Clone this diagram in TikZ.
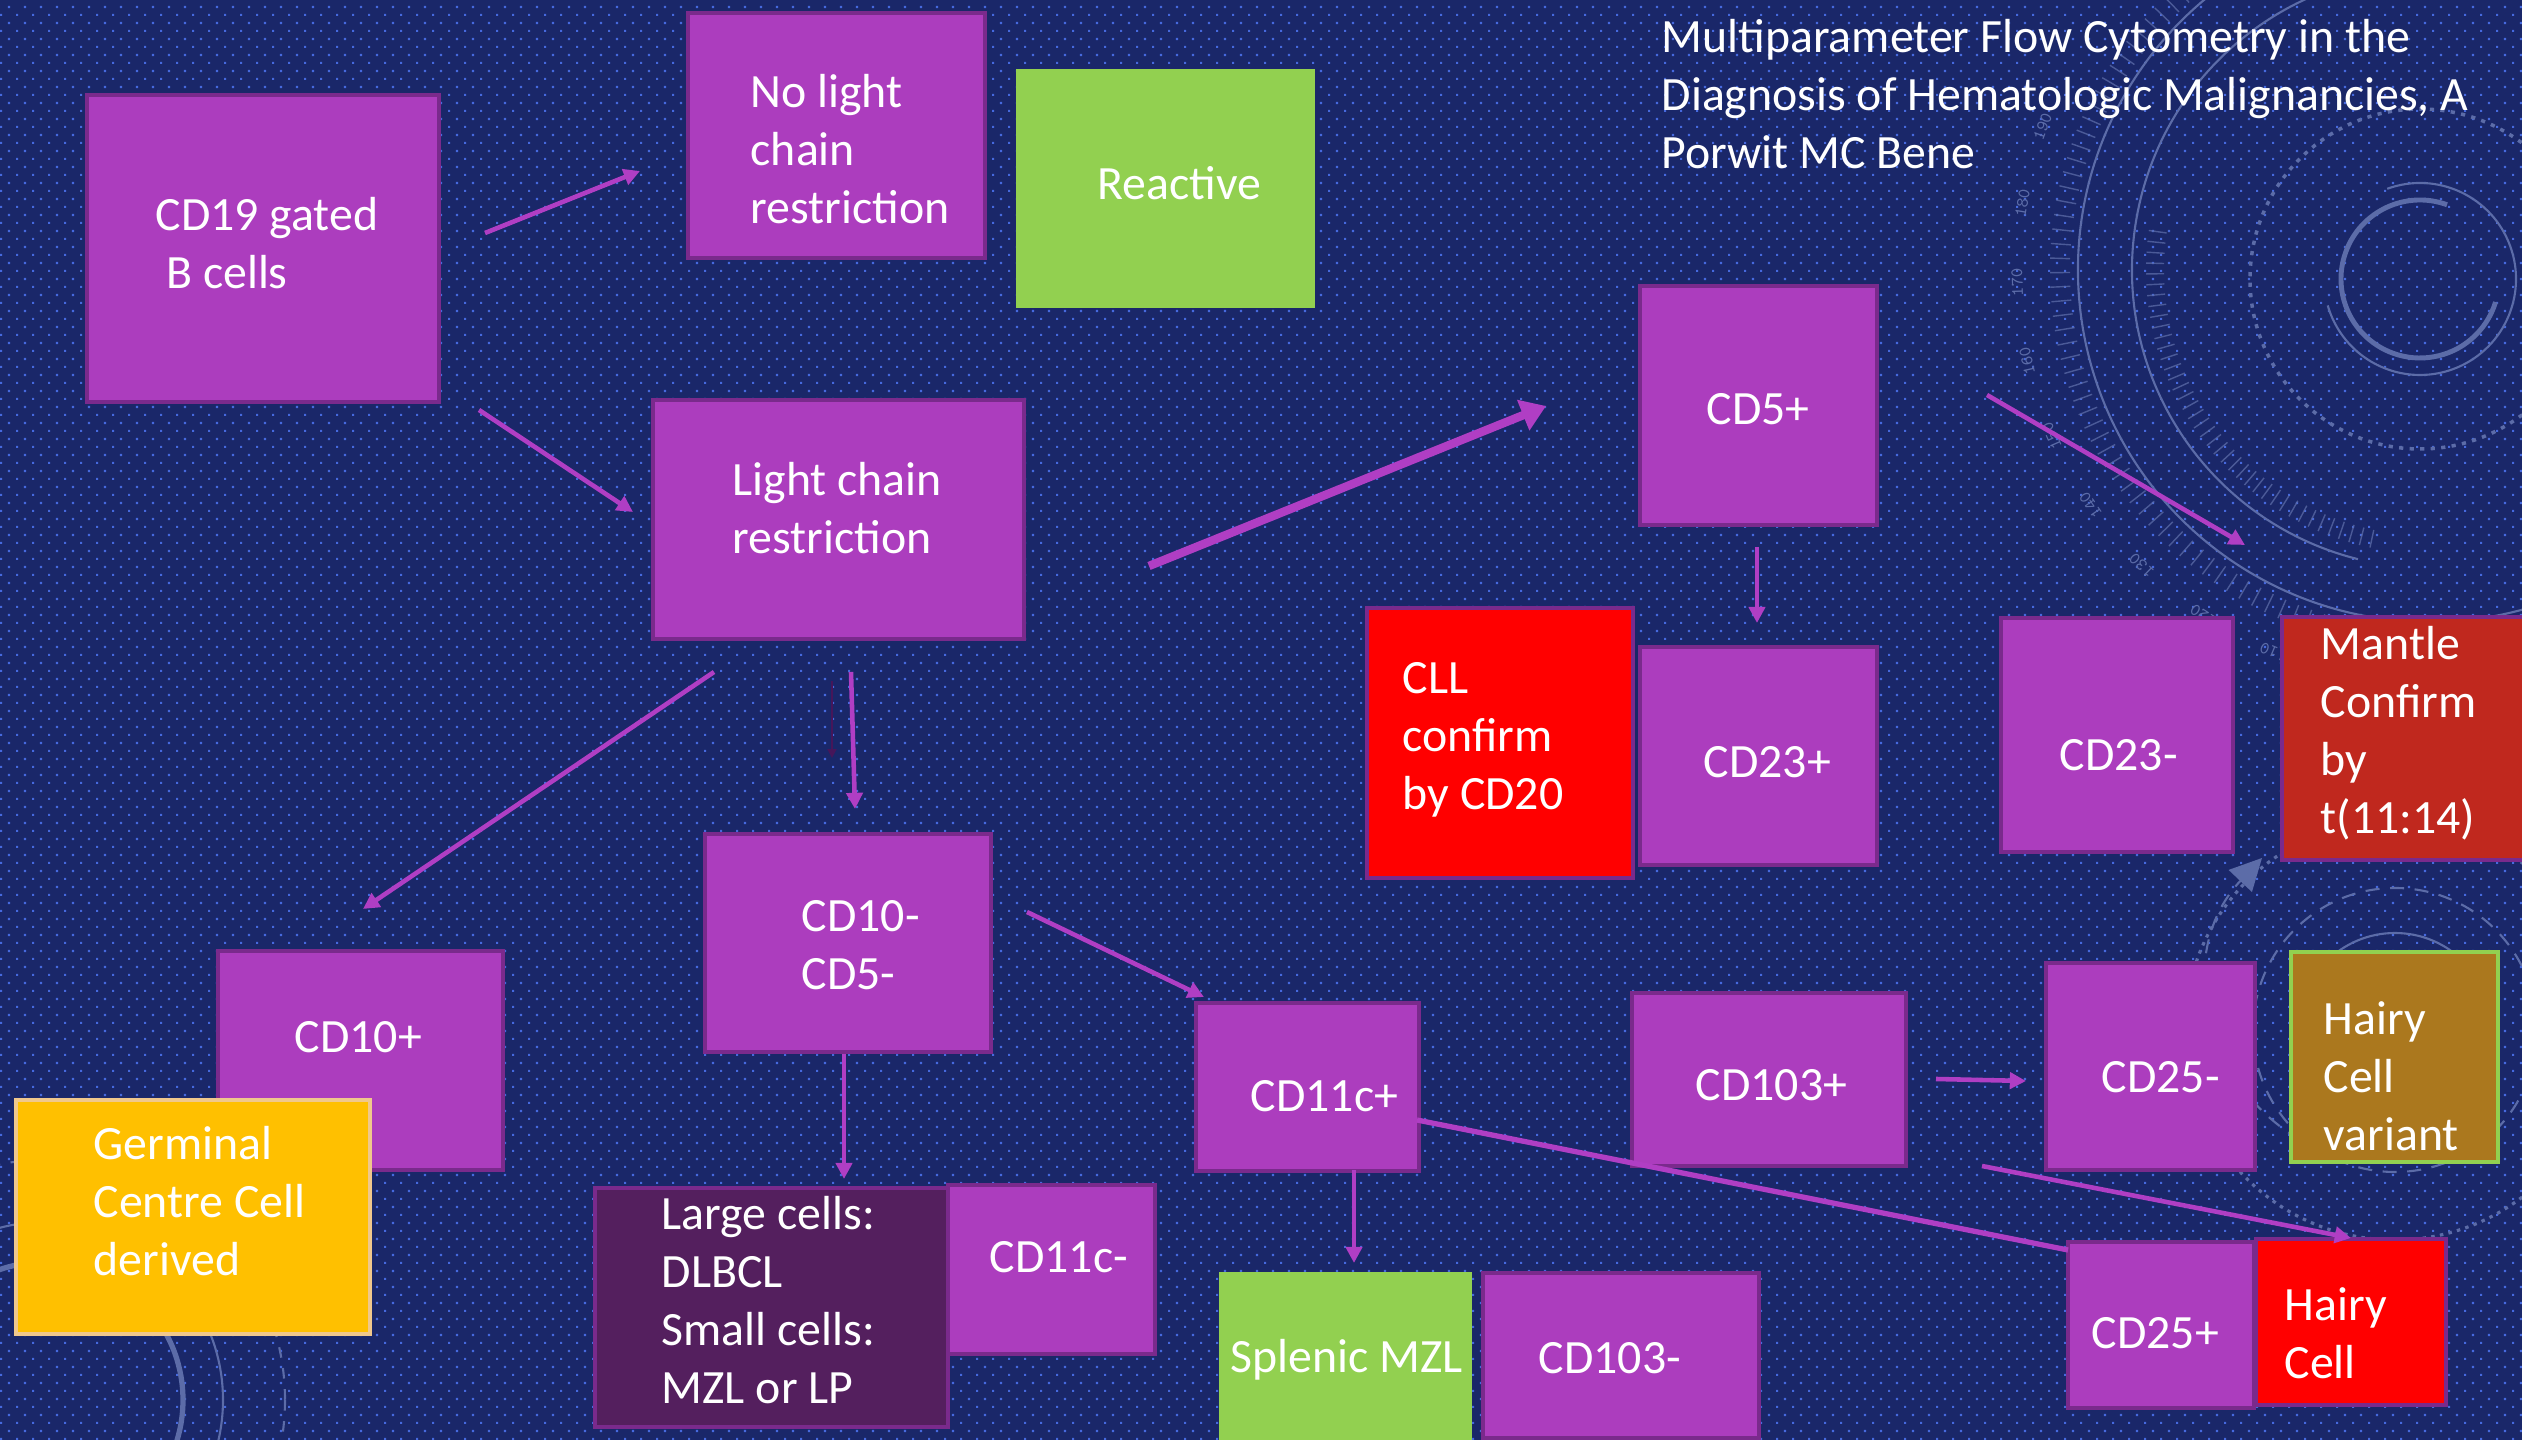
\documentclass[tikz,border=0pt]{standalone}
\usepackage{fontspec}
\setmainfont{Carlito}
\usetikzlibrary{arrows.meta,patterns}

\definecolor{bgc}{RGB}{26,39,105}
\definecolor{dotc}{RGB}{70,105,222}
\definecolor{decoc}{RGB}{92,108,168}
\definecolor{pfill}{RGB}{172,61,190}
\definecolor{pline}{RGB}{122,42,140}
\definecolor{arrc}{RGB}{176,62,196}
\definecolor{lgreen}{RGB}{146,208,80}
\definecolor{mred}{RGB}{192,40,30}
\definecolor{gold}{RGB}{255,192,0}
\definecolor{peach}{RGB}{240,200,140}
\definecolor{dpurp}{RGB}{84,31,94}
\definecolor{hcvc}{RGB}{171,120,30}
\definecolor{thinc}{RGB}{70,22,90}

\pgfdeclarepatternformonly{tdots}{\pgfqpoint{0pt}{0pt}}{\pgfqpoint{4.55244pt}{4.55244pt}}{\pgfqpoint{4.55244pt}{4.55244pt}}{%
  \pgfpathrectangle{\pgfqpoint{0pt}{0pt}}{\pgfqpoint{0.57pt}{0.57pt}}%
  \pgfpathrectangle{\pgfqpoint{2.27622pt}{2.27622pt}}{\pgfqpoint{0.57pt}{0.57pt}}%
  \pgfusepath{fill}}

\newcommand\mkbox[6]{\node[#1, minimum width={(#4-#2)*0.1mm}, minimum height={(#5-#3)*0.1mm}] (#6) at ({(#2+#4)/2},{(#3+#5)/2}) {};}

\begin{document}
\begin{tikzpicture}[x=0.1mm,y=-0.1mm,
  box/.style={rectangle, inner sep=0pt, outer sep=0pt},
  pbox/.style={box, fill=pfill, draw=pline, line width=1.1pt},
  redbox/.style={box, fill=red, draw=pline, line width=1.1pt},
  mantlebox/.style={box, fill=mred, draw=pline, line width=1.1pt},
  greenbox/.style={box, fill=lgreen},
  goldbox/.style={box, fill=gold, draw=peach, line width=0.9pt},
  darkbox/.style={box, fill=dpurp, draw=pline, line width=1.1pt},
  hcvbox/.style={box, fill=hcvc, draw=lgreen, line width=1.2pt},
  txt/.style={text=white, font=\fontsize{13.6}{16.5}\selectfont, align=left, inner sep=0pt, anchor=west},
  arr/.style={draw=arrc, line width=1.3pt, -{Triangle[length=4.6pt,width=4.6pt]}},
  bigarr/.style={draw=arrc, line width=2.4pt, -{Triangle[length=7pt,width=9pt]}},
  plainline/.style={draw=arrc, line width=1.5pt},
  thinarr/.style={draw=thinc, line width=0.6pt, -{Triangle[length=2.5pt,width=2.5pt]}},
  deco/.style={draw=decoc, line width=0.6pt},
  tick/.style={draw=decoc, line width=0.4pt, draw opacity=0.75},
  ticknum/.style={text=decoc, font=\ttfamily\fontsize{5}{6}\selectfont, inner sep=0pt}
]
\useasboundingbox (0,0) rectangle (2522,1440);
\fill[bgc] (0,0) rectangle (2522,1440);
\fill[pattern=tdots, pattern color=dotc] (0,0) rectangle (2522,1440);

% ---- decorations: upper right dial
\begin{scope}[shift={(2430,270)}, yscale=-1]
  \draw[deco] (60:352) arc[start angle=60, end angle=300, radius=352];
  \draw[deco] (80:298) arc[start angle=80, end angle=256, radius=298];
  \foreach \a in {132,134.2,...,268} {\draw[tick] (\a:360) -- (\a:380);}
  \foreach \a in {172,174.2,...,258} {\draw[tick] (\a:266) -- (\a:284);}
  \foreach \v in {110,120,...,190} {
    \pgfmathsetmacro\ang{181.7+(170-\v)*1.1}
    \node[ticknum, rotate=\ang-90] at (\ang:413) {\v};
  }
\end{scope}
\begin{scope}[shift={(2420,279)}, yscale=-1]
  \draw[deco, line width=1.4pt] (70:79) arc[start angle=70, end angle=343, radius=79];
  \draw[deco] (110:96) arc[start angle=110, end angle=-164, radius=96];
  \draw[deco, line width=1pt, dash pattern=on 1.2pt off 1.8pt] (0,0) circle[radius=170];
\end{scope}
% ---- decorations: bottom left
\begin{scope}[shift={(45,1400)}]
  \draw[deco, line width=1.5pt] (0,0) circle[radius=138];
  \draw[deco] (0,0) circle[radius=178];
  \draw[deco, dashed] (0,0) circle[radius=240];
\end{scope}
% ---- decorations: right middle
\begin{scope}[shift={(2395,1030)}]
  \draw[deco, dash pattern=on 4pt off 3pt] (0,0) circle[radius=142];
  \draw[deco, dash pattern=on 1pt off 1.5pt, line width=0.9pt] (0,0) circle[radius=210];
  \draw[deco] (0,0) circle[radius=97];
\end{scope}
\coordinate (sp1) at (2300,1140);
\coordinate (sp2) at (2262,858);
\draw[deco, dash pattern=on 4pt off 3pt, -{Triangle[length=9pt,width=9pt]}] (sp1) .. controls (2200,1080) and (2175,950) .. (sp2);

% ---- title
\node[txt] (title) at (1661,99) {\strut Multiparameter Flow Cytometry in the\\\strut Diagnosis of Hematologic Malignancies, A\\\strut Porwit MC Bene};

% ---- boxes
\mkbox{pbox}{87}{95}{439}{402}{cd19}
\mkbox{pbox}{688}{13}{985}{258}{nolight}
\mkbox{greenbox}{1016}{69}{1315}{308}{reactive}
\mkbox{pbox}{653}{400}{1024}{639}{lcr}
\mkbox{pbox}{1640}{286}{1877}{525}{cd5p}
\mkbox{redbox}{1367}{608}{1633}{878}{cll}
\mkbox{pbox}{1640}{647}{1877}{865}{cd23p}
\mkbox{pbox}{2001}{618}{2233}{852}{cd23m}
\mkbox{mantlebox}{2282}{617}{2540}{860}{mantle}
\mkbox{pbox}{218}{951}{503}{1170}{cd10p}
\mkbox{pbox}{705}{834}{991}{1052}{cd10m}
\mkbox{goldbox}{16}{1100}{370}{1334}{germ}
\mkbox{darkbox}{595}{1188}{948}{1427}{large}
\mkbox{pbox}{948}{1185}{1155}{1354}{cd11cm}
\mkbox{pbox}{1196}{1003}{1419}{1171}{cd11cp}
\mkbox{greenbox}{1219}{1272}{1472}{1450}{splenic}
\mkbox{pbox}{1483}{1273}{1759}{1438}{cd103m}
\mkbox{pbox}{1632}{993}{1906}{1166}{cd103p}
\mkbox{pbox}{2046}{963}{2255}{1170}{cd25m}
\mkbox{hcvbox}{2291}{952}{2498}{1162}{hcv}
\mkbox{pbox}{2068}{1242}{2254}{1408}{cd25p}
\mkbox{redbox}{2256}{1239}{2446}{1405}{hairy}

% ---- texts
\node[txt] (t_cd19) at (155,248) {\strut CD19 gated\\\hspace*{3pt}\strut B cells};
\node[txt] (t_nolight) at (750,154) {\strut No light\\\strut chain\\\strut restriction};
\node[txt] (t_react) at (1097,188) {\strut Reactive};
\node[txt] (t_lcr) at (732,513) {\strut Light chain\\\strut restriction};
\node[txt] (t_cd5p) at (1706,413) {\strut CD5+};
\node[txt] (t_cll) at (1402,740) {\strut CLL\\\strut confirm\\\strut by CD20};
\node[txt] (t_cd23p) at (1703,766) {\strut CD23+};
\node[txt] (t_cd23m) at (2059,759) {\strut CD23-};
\node[txt] (t_mantle) at (2320,735) {\strut Mantle\\\strut Confirm\\\strut by\\\strut t(11:14)};
\node[txt] (t_cd10p) at (294,1041) {\strut CD10+};
\node[txt] (t_cd10m) at (801,949) {\strut CD10-\\\strut CD5-};
\node[txt] (t_germ) at (93,1206) {\strut Germinal\\\strut Centre Cell\\\strut derived};
\node[txt] (t_large) at (661,1305) {\strut Large cells:\\\strut DLBCL\\\strut Small cells:\\\strut MZL or LP};
\node[txt] (t_cd11cm) at (989,1261) {\strut CD11c-};
\node[txt] (t_cd11cp) at (1250,1100) {\strut CD11c+};
\node[txt] (t_splenic) at (1230,1361) {\strut Splenic MZL};
\node[txt] (t_cd103m) at (1538,1362) {\strut CD103-};
\node[txt] (t_cd103p) at (1695,1089) {\strut CD103+};
\node[txt] (t_cd25m) at (2101,1081) {\strut CD25-};
\node[txt] (t_hcv) at (2323,1081) {\strut Hairy\\\strut Cell\\\strut variant};
\node[txt] (t_cd25p) at (2091,1337) {\strut CD25+};
\node[txt] (t_hairy) at (2284,1338) {\strut Hairy\\\strut Cell};

% ---- connector end points
\coordinate (a1s) at (485,233);  \coordinate (a1e) at (640,171);
\coordinate (a2s) at (479,410);  \coordinate (a2e) at (633,512);
\coordinate (a3s) at (1149,566); \coordinate (a3e) at (1546,406);
\coordinate (a4s) at (1987,395); \coordinate (a4e) at (2245,545);
\coordinate (a5s) at (1757,547); \coordinate (a5e) at (1757,623);
\coordinate (a6s) at (714,672);  \coordinate (a6e) at (363,909);
\coordinate (a7s) at (851,672);  \coordinate (a7e) at (855,809);
\coordinate (a7bs) at (832,681); \coordinate (a7be) at (832,758);
\coordinate (a8s) at (1027,912); \coordinate (a8e) at (1204,997);
\coordinate (a9s) at (844,1054); \coordinate (a9e) at (844,1179);
\coordinate (a10s) at (1354,1170); \coordinate (a10e) at (1354,1263);
\coordinate (a11s) at (1417,1120); \coordinate (a11e) at (2068,1250);
\coordinate (a12s) at (1936,1079); \coordinate (a12e) at (2026,1081);
\coordinate (a13s) at (1982,1166); \coordinate (a13e) at (2351,1238);

% ---- connectors
\draw[arr] (a1s) -- (a1e);
\draw[arr] (a2s) -- (a2e);
\draw[bigarr] (a3s) -- (a3e);
\draw[arr] (a4s) -- (a4e);
\draw[arr] (a5s) -- (a5e);
\draw[arr] (a6s) -- (a6e);
\draw[arr] (a7s) -- (a7e);
\draw[thinarr] (a7bs) -- (a7be);
\draw[arr] (a8s) -- (a8e);
\draw[arr] (a9s) -- (a9e);
\draw[arr] (a10s) -- (a10e);
\draw[plainline] (a11s) -- (a11e);
\draw[arr] (a12s) -- (a12e);
\draw[arr] (a13s) -- (a13e);
\end{tikzpicture}
\end{document}
